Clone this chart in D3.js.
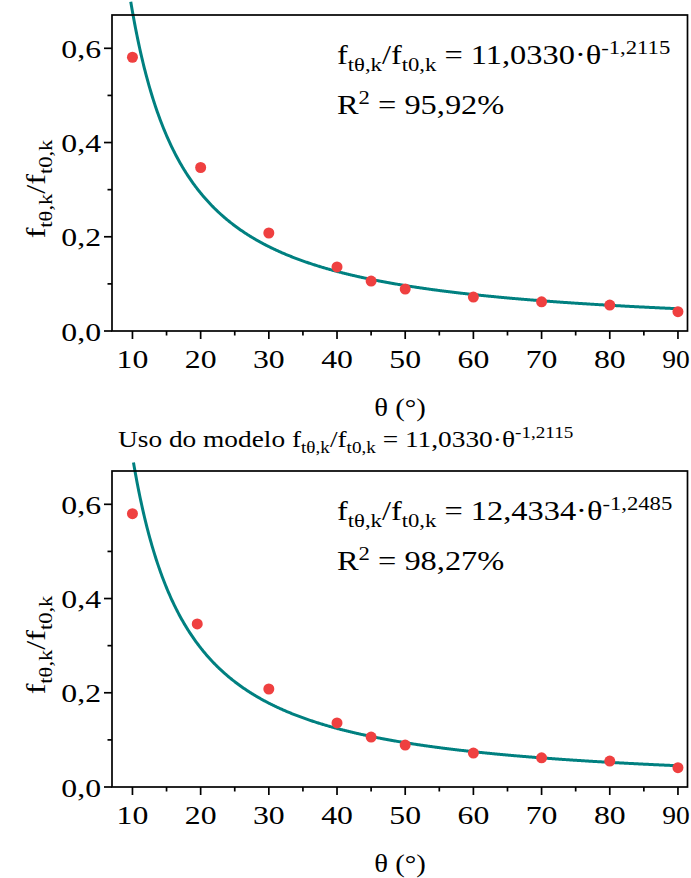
<!DOCTYPE html>
<meta charset="utf-8">
<style>
body{margin:0;background:#fff;}
text{font-family:"Liberation Serif","Times New Roman",serif;fill:#000;}
.frame{fill:none;stroke:#000;stroke-width:1.7px;}
.tick line{stroke:#000;stroke-width:1.7px;}
.fit{fill:none;stroke:#008080;stroke-width:3px;}
.pt{fill:#ef4040;}
</style>
<body>
<script src="https://d3js.org/d3.v7.min.js"></script>
<script>

// measured points, one array per panel
var thetaTop=[10,20,30,40,45,50,60,70,80,90];
var ratioTop=[0.581,0.347,0.208,0.136,0.106,0.089,0.072,0.062,0.055,0.041];
var thetaBot=[10,19.5,30,40,45,50,60,70,80,90];
var ratioBot=[0.580,0.346,0.208,0.136,0.106,0.089,0.072,0.062,0.055,0.041];

// fitted power law  a*theta^b  as printed on each panel
var fitA=[11.0330,12.4334];
var fitB=[-1.2115,-1.2485];
var fitAtxt=["11,0330","12,4334"];
var fitBtxt=["-1,2115","-1,2485"];
var r2txt=["95,92%","98,27%"];
var fitStart=[9.75,10.15];

var xTicks=[10,20,30,40,50,60,70,80,90];
var xMinor=[15,25,35,45,55,65,75,85];
var yTicks=[0,0.2,0.4,0.6];
var yMinor=[0.1,0.3,0.5];

var W=691,H=878, SX=1.27;
var svg=d3.select("body").append("svg").attr("width",W).attr("height",H);

var loc=d3.formatLocale({decimal:",",thousands:".",grouping:[3],currency:["",""]});
var fy=loc.format(".1f");

var x=d3.scaleLinear().domain([7,91.4]).range([112,687.5]);
var y=d3.scaleLinear().domain([0,0.6707]).range([316,0]);

// rich text: parts = [[string, "n"|"sub"|"sup"], ...]
function rich(parent,px,py,size,parts,sx,rot,anchor){
	var g=parent.append("g").attr("transform","translate("+px+","+py+")"+(rot?" rotate("+rot+")":"")+" scale("+sx+",1)");
	var t=g.append("text").style("font-size",size+"px").attr("text-anchor",anchor||"start");
	var cur=0;
	parts.forEach(function(p){
		var off=p[1]=="sub"? size*0.26 : p[1]=="sup"? -size*0.36 : 0;
		t.append("tspan").text(p[0])
			.style("font-size",(p[1]=="n"? size: size*0.7)+"px")
			.attr("dy",off-cur);
		cur=off;
	});
	return g;
}

function ratioLabel(){
	return [["f","n"],["t\u03b8,k","sub"],["/f","n"],["t0,k","sub"]];
}

function panel(i,top,th,ra){
	var g=svg.append("g").attr("transform","translate(0,"+top+")");

	// fit curve, drawn from the printed equation
	var pts=d3.range(fitStart[i],90.001,0.1).map(function(t){return [t,fitA[i]*Math.pow(t,fitB[i])];});
	g.append("path").attr("class","fit")
		.attr("d",d3.line().x(d=>x(d[0])).y(d=>y(d[1]))(pts));

	g.selectAll(".pt").data(th).enter().append("circle").attr("class","pt")
		.attr("cx",d=>x(d)).attr("cy",(d,j)=>y(ra[j])).attr("r",5.5);

	g.append("rect").attr("class","frame")
		.attr("x",x.range()[0]).attr("y",0)
		.attr("width",x.range()[1]-x.range()[0]).attr("height",y.range()[0]);

	var xa=g.append("g").attr("transform","translate(0,"+y.range()[0]+")");
	xa.selectAll(".tick").data(xTicks.map(v=>[v,8]).concat(xMinor.map(v=>[v,4.5]))).enter()
		.append("g").attr("class","tick").append("line")
		.attr("x1",d=>x(d[0])).attr("x2",d=>x(d[0])).attr("y1",0).attr("y2",d=>d[1]);
	xTicks.forEach(function(v){
		rich(xa,v==90?x(v)-2:x(v),37,25,[[String(v),"n"]],v==90?1.1:SX,0,"middle");
	});

	var ya=g.append("g").attr("transform","translate("+x.range()[0]+",0)");
	ya.selectAll(".tick").data(yTicks.map(v=>[v,8]).concat(yMinor.map(v=>[v,4.5]))).enter()
		.append("g").attr("class","tick").append("line")
		.attr("y1",d=>y(d[0])).attr("y2",d=>y(d[0])).attr("x1",0).attr("x2",d=>-d[1]);
	yTicks.forEach(function(v){
		rich(ya,-11,y(v)+9.5,25,[[fy(v),"n"]],SX,0,"end");
	});

	rich(g,400,y.range()[0]+85,25,[["\u03b8 (\u00b0)","n"]],1.15,0,"middle");
	rich(g,45,174,28,ratioLabel(),1.15,-90,"middle");

	rich(g,337,49,27,ratioLabel().concat([[" = "+fitAtxt[i]+"\u00b7\u03b8","n"],[fitBtxt[i],"sup"]]),1.2,0,"start");
	rich(g,337,99,27,[["R","n"],["2","sup"],[" = "+r2txt[i],"n"]],1.2,0,"start");
	return g;
}

panel(0,15,thetaTop,ratioTop);
panel(1,471,thetaBot,ratioBot);

rich(svg,118,447,24,[["Uso do modelo f","n"],["t\u03b8,k","sub"],["/f","n"],["t0,k","sub"],[" = "+fitAtxt[0]+"\u00b7\u03b8","n"],[fitBtxt[0],"sup"]],1.14,0,"start");

</script>
</body>
</html>
